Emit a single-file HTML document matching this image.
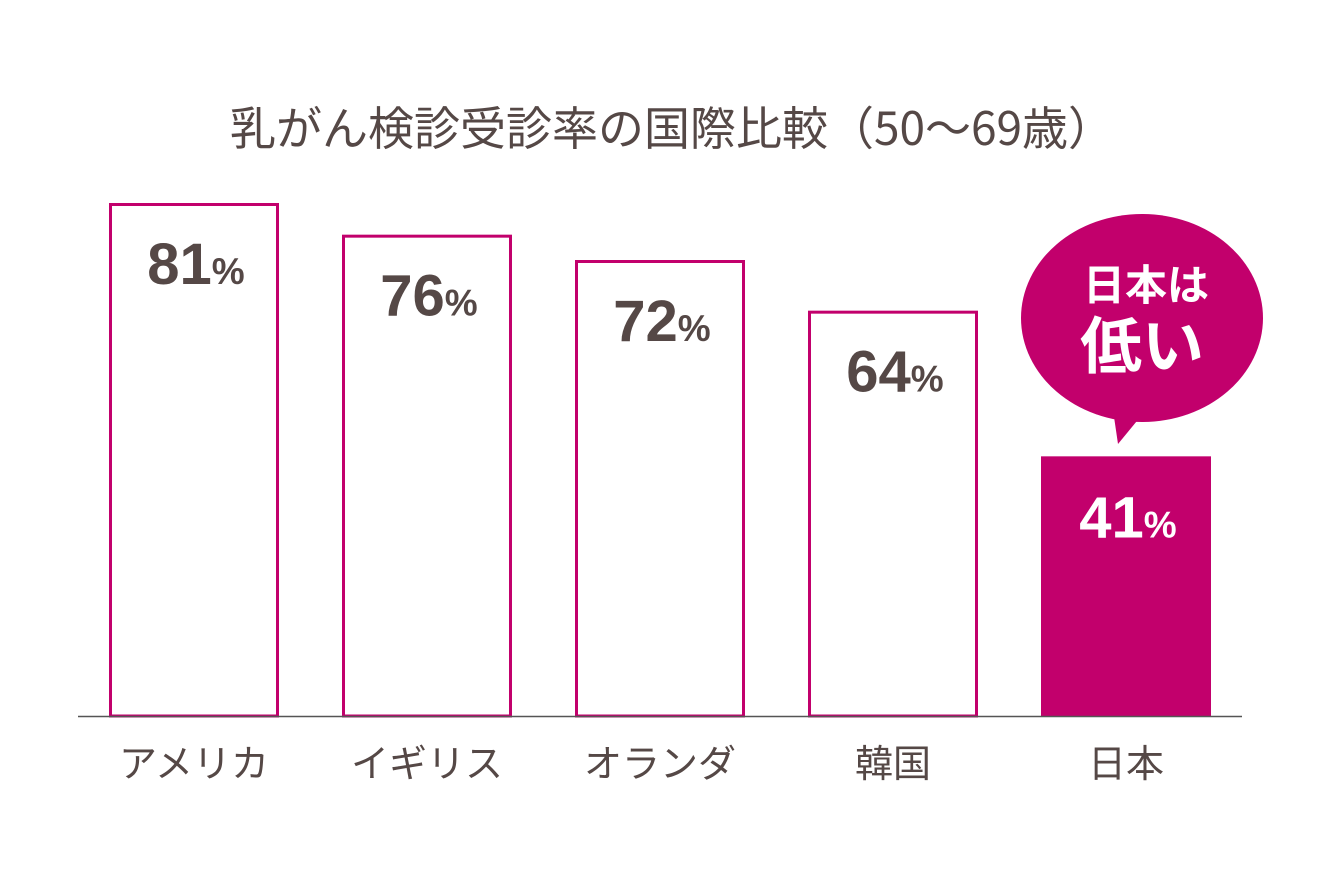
<!DOCTYPE html>
<html><head><meta charset="utf-8">
<style>
html,body{margin:0;padding:0;background:#fff;}
svg{display:block;font-family:"Liberation Sans","Noto Sans CJK JP",sans-serif;}
</style></head>
<body>
<svg id="chart" width="1320" height="880" viewBox="0 0 1320 880" xmlns="http://www.w3.org/2000/svg">
<text x="672" y="145" text-anchor="middle" font-size="46" fill="#554846" font-family="Noto Sans CJK JP, sans-serif">乳がん検診受診率の国際比較（50〜69歳）</text>
<g id="bars"></g>
<line x1="78" y1="716.5" x2="1242" y2="716.5" stroke="#555" stroke-width="1.5"/>
<g>
<ellipse cx="1142" cy="318" rx="121" ry="104" fill="#c2006c"/>
<polygon points="1113,410 1146,410 1118,444" fill="#c2006c"/>
<text x="1146" y="300" text-anchor="middle" font-size="42" font-weight="bold" fill="#fff" font-family="Noto Sans CJK JP, sans-serif">日本は</text>
<text x="1142" y="368" text-anchor="middle" font-size="62" font-weight="bold" fill="#fff" font-family="Noto Sans CJK JP, sans-serif">低い</text>
</g>
</svg>
<script>
const categories = ["アメリカ","イギリス","オランダ","韓国","日本"];
const values = [81,76,72,64,41];
const highlight = [false,false,false,false,true];
const baseY = 716, pxPer = 513/81;
const x0 = 109, step = 233, bw = 170;
function yScale(v){return baseY - v*pxPer;}
function xScale(i){return x0 + i*step;}
const ns = "http://www.w3.org/2000/svg";
const g = document.getElementById("bars");
const C = "#c2006c", T = "#554846";
categories.forEach((c,i)=>{
  const v = values[i], x = xScale(i), y = yScale(v), h = highlight[i];
  const r = document.createElementNS(ns,"rect");
  
  
  r.setAttribute("x", h ? x : x+1.5);
  r.setAttribute("y", h ? y : y+1.5);
  r.setAttribute("width", h ? bw : bw-3);
  r.setAttribute("height", h ? baseY-y : baseY-y-1.5);
  r.setAttribute("fill", h ? C : "#fff");
  if(!h){r.setAttribute("stroke", C); r.setAttribute("stroke-width","3");}
  g.appendChild(r);
  const t = document.createElementNS(ns,"text");
  
  
  t.setAttribute("x", x+bw/2+2);
  t.setAttribute("y", y+81);
  t.setAttribute("text-anchor","middle");
  t.setAttribute("fill", h ? "#fff" : T);
  t.setAttribute("font-weight","bold");
  const s1 = document.createElementNS(ns,"tspan");
  s1.setAttribute("font-size","58"); s1.textContent = v;
  const s2 = document.createElementNS(ns,"tspan");
  s2.setAttribute("font-size","37"); s2.textContent = "%";
  t.appendChild(s1); t.appendChild(s2);
  g.appendChild(t);
  const l = document.createElementNS(ns,"text");
  
  
  l.setAttribute("x", x+bw/2);
  l.setAttribute("y", 777);
  l.setAttribute("text-anchor","middle");
  l.setAttribute("font-size","38");
  l.setAttribute("fill", T);
  l.setAttribute("font-family","Noto Sans CJK JP, sans-serif");
  l.textContent = c;
  g.appendChild(l);
});
</script>
</body></html>
